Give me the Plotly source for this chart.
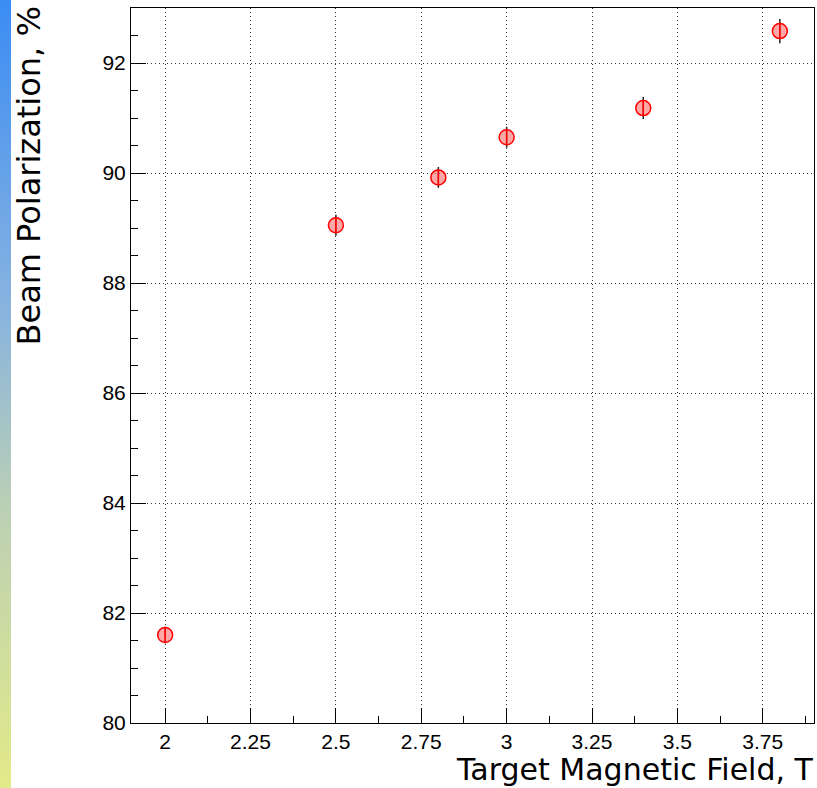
import base64
import plotly.graph_objects as go

# Data
field_T = [2.0, 2.5, 2.8, 3.0, 3.4, 3.8]
polarization = [81.6, 89.05, 89.92, 90.65, 91.18, 92.58]
pol_err = [0.15, 0.19, 0.19, 0.19, 0.20, 0.22]

x_ticks = [2, 2.25, 2.5, 2.75, 3, 3.25, 3.5, 3.75]
x_ticklabels = ["2", "2.25", "2.5", "2.75", "3", "3.25", "3.5", "3.75"]
y_ticks = [80, 82, 84, 86, 88, 90, 92]

FONT = "Liberation Sans, Arial, Helvetica, sans-serif"
TFONT = "DejaVu Sans, Liberation Sans, sans-serif"

fig = go.Figure()
fig.add_trace(go.Scatter(
    x=field_T, y=polarization, mode="markers",
    error_y=dict(type="data", array=pol_err, visible=True, color="#222222",
                 thickness=1.5, width=0),
    marker=dict(symbol="circle", size=15, color="rgba(255,110,110,0.6)",
                line=dict(color="#ff0000", width=1.5)),
    showlegend=False,
))
# vertical hatch imitation
fig.add_trace(go.Scatter(
    x=field_T, y=polarization, mode="markers",
    marker=dict(symbol="line-ns", size=11, line=dict(color="#ff0000", width=1.5)),
    showlegend=False, hoverinfo="skip",
))

W, H = 817, 788
L, R, T, B = 131, 3, 8, 65
pw, ph = W - L - R, H - T - B

svg = ('<svg xmlns="http://www.w3.org/2000/svg" width="11" height="788">'
       '<defs><linearGradient id="g" x1="0" y1="0" x2="0" y2="1">'
       '<stop offset="0" stop-color="#3a8cf4"/>'
       '<stop offset="0.38" stop-color="#86b2e0"/>'
       '<stop offset="0.65" stop-color="#bcd0b4"/>'
       '<stop offset="1" stop-color="#e2ea88"/>'
       '</linearGradient></defs>'
       '<rect width="11" height="788" fill="url(#g)"/></svg>')
src = "data:image/svg+xml;base64," + base64.b64encode(svg.encode()).decode()

fig.add_layout_image(dict(
    source=src, xref="paper", yref="paper",
    x=-L / pw, y=1 + T / ph, sizex=11 / pw, sizey=H / ph,
    xanchor="left", yanchor="top", sizing="stretch", layer="below",
))

axis_common = dict(
    showline=True, linecolor="black", linewidth=1, mirror=True,
    ticks="inside", tickcolor="black", tickwidth=1,
    showgrid=True, gridcolor="#333333", gridwidth=1, griddash="1px,3px",
    zeroline=False,
    tickfont=dict(family=FONT, size=21, color="black"),
)

fig.update_xaxes(
    range=[1.9, 3.9], tickvals=x_ticks, ticktext=x_ticklabels, ticklen=15,
    minor=dict(dtick=0.125, tick0=2, ticks="inside", ticklen=7, tickcolor="black", showgrid=False),
    **axis_common,
)
fig.update_yaxes(
    range=[80, 93], tickvals=y_ticks, ticklen=15,
    minor=dict(dtick=0.5, tick0=80, ticks="inside", ticklen=7, tickcolor="black", showgrid=False),
    **axis_common,
)

fig.add_annotation(
    text="Beam Polarization, %", textangle=-90, showarrow=False,
    xref="paper", yref="paper", x=(28 - L) / pw, y=1 + 3 / ph,
    xanchor="center", yanchor="top",
    font=dict(family=TFONT, size=32, color="black"),
)
fig.add_annotation(
    text="Target Magnetic Field, T", showarrow=False,
    xref="paper", yref="paper", x=1 + 1 / pw, y=-(788 - 723) / ph,
    xanchor="right", yanchor="bottom", borderpad=0,
    font=dict(family=TFONT, size=30, color="black"),
)

fig.update_layout(
    width=W, height=H,
    margin=dict(l=L, r=R, t=T, b=B),
    paper_bgcolor="white", plot_bgcolor="white",
)

fig.write_html("out.html")
